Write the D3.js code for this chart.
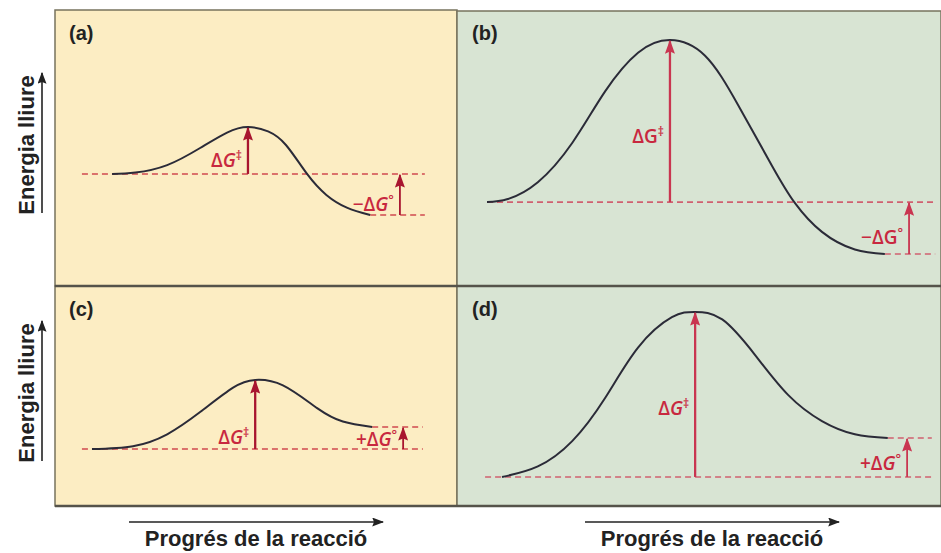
<!DOCTYPE html>
<html>
<head>
<meta charset="utf-8">
<script src="https://cdn.jsdelivr.net/npm/d3@7"></script>
<style>
  body { margin: 0; background: #fff; }
  svg { display: block; }
</style>
</head>
<body>
<script>
// Panel names and axis captions
const panelNames = ["(a)", "(b)", "(c)", "(d)"];
const yCaption = "Energia lliure";
const xCaption = "Progrés de la reacció";

// Energy profiles: [progress 0-100, free energy 0-100]
const curveA = [[14.2, 40.6], [20.0, 41.1], [27.9, 43.8], [36.1, 50.0], [42.8, 55.6], [48.0, 57.6],
  [53.0, 56.0], [57.5, 51.0], [62.7, 40.6], [67.5, 33.0], [72.6, 28.4], [78.4, 25.7]];
const curveB = [[6.2, 30.4], [10.5, 31.5], [16.7, 37.6], [23.8, 51.8], [30.6, 70.5], [37.4, 84.5], [44.0, 89.1],
  [51.2, 83.5], [58.1, 65.5], [65.1, 43.5], [69.8, 30.1], [75.4, 19.6], [82.2, 13.2], [88.4, 11.6]];
const curveC = [[9.2, 25.9], [19.4, 27.2], [27.9, 32.6], [36.1, 42.7], [44.3, 53.8], [49.8, 57.3],
  [56.7, 54.8], [65.2, 44.5], [71.6, 38.4], [78.9, 35.9]];
const curveD = [[9.3, 13.2], [16.7, 18.0], [23.8, 29.5], [30.6, 49.1], [37.4, 72.0], [44.4, 85.8], [49.2, 88.2],
  [54.8, 84.8], [61.6, 68.6], [68.4, 50.5], [75.4, 38.6], [82.2, 32.6], [89.0, 30.9]];
const curves = [curveA, curveB, curveC, curveD];

// Levels per panel
const reactantG = [40.6, 30.4, 25.9, 13.2];
const transitionG = [57.6, 89.1, 57.3, 88.2];
const productG = [25.7, 11.6, 35.9, 30.9];
const peakAt = [48.0, 44.0, 49.8, 49.2];
const levelFrom = [6.7, 6.2, 6.7, 5.8];
const levelTo = [92.0, 98.8, 91.5, 98.1];
const productFrom = [78.4, 88.4, 78.9, 89.0];
const deltaAt = [85.8, 93.4, 86.6, 93.0];
const deltaSign = ["\u2212", "\u2212", "+", "+"];

// Layout
const W = 941, H = 553;
const cols = [[55, 457], [457, 941]];
const rows = [[10, 286], [286, 506]];
const fills = ["#fcedc3", "#d8e4d3"];
const arrowColors = ["#a8152f", "#c93550", "#a8152f", "#c93550"];
const barrierLabelPos = [0.70, 0.59, 0.83, 0.58];
const deltaLabelPos = [0.73, 0.67, 0.55, 0.64];
const captionX = [256, 712];

const svg = d3.select("body").append("svg")
  .attr("width", W)
  .attr("height", H)
  .style("font-family", "'Liberation Sans', Arial, sans-serif");

const defs = svg.append("defs");
arrowColors.concat(["#222"]).forEach((c, i) => {
  defs.append("marker")
    .attr("id", "head" + i)
    .attr("viewBox", "0 0 10 10")
    .attr("refX", 9).attr("refY", 5)
    .attr("markerWidth", i === 4 ? 12 : 14)
    .attr("markerHeight", i === 4 ? 9 : 10)
    .attr("markerUnits", "userSpaceOnUse")
    .attr("orient", "auto")
    .attr("preserveAspectRatio", "none")
    .append("path")
    .attr("d", "M0,0 L10,5 L0,10 L1.5,5 Z")
    .attr("fill", c);
});

panelNames.forEach((name, i) => {
  const col = i % 2, row = Math.floor(i / 2);
  const x = d3.scaleLinear().domain([0, 100]).range(cols[col]);
  const y = d3.scaleLinear().domain([0, 100]).range([rows[row][1], rows[row][0]]);
  const g = svg.append("g");

  g.append("rect")
    .attr("x", cols[col][0]).attr("y", rows[row][0] + (col === 1 && row === 0 ? 1 : 0))
    .attr("width", cols[col][1] - cols[col][0])
    .attr("height", rows[row][1] - rows[row][0])
    .attr("fill", fills[col])
    .attr("stroke", "#77735e")
    .attr("stroke-width", 1.5);

  g.append("text")
    .attr("x", cols[col][0] + (col === 0 ? 14 : 15))
    .attr("y", rows[row][0] + 30)
    .attr("font-size", 20)
    .attr("font-weight", "bold")
    .attr("fill", "#222")
    .text(name);

  // dashed energy levels
  const dash = [
    [levelFrom[i], levelTo[i], reactantG[i]],
    [productFrom[i], levelTo[i], productG[i]]
  ];
  g.selectAll(".level")
    .data(dash)
    .join("line")
    .attr("x1", d => x(d[0])).attr("x2", d => x(d[1]))
    .attr("y1", d => y(d[2])).attr("y2", d => y(d[2]))
    .attr("stroke", col === 0 ? "#cf4a50" : "#d06070")
    .attr("stroke-width", 1.6)
    .attr("stroke-dasharray", "6,4");

  // energy profile
  g.append("path")
    .datum(curves[i])
    .attr("fill", "none")
    .attr("stroke", "#2b2b38")
    .attr("stroke-width", 2)
    .attr("d", d3.line().x(d => x(d[0])).y(d => y(d[1])).curve(d3.curveNatural));

  // activation barrier arrow
  g.append("line")
    .attr("x1", x(peakAt[i])).attr("x2", x(peakAt[i]))
    .attr("y1", y(reactantG[i])).attr("y2", y(transitionG[i]) + 1)
    .attr("stroke", arrowColors[i])
    .attr("stroke-width", 2.3)
    .attr("marker-end", `url(#head${i})`);

  const by = y(transitionG[i]) + barrierLabelPos[i] * (y(reactantG[i]) - y(transitionG[i]));
  const bt = g.append("text")
    .attr("x", x(peakAt[i]) - 6)
    .attr("y", by + 7)
    .attr("text-anchor", "end")
    .attr("font-family", "'Open Sans', sans-serif")
    .attr("font-weight", 600)
    .attr("font-size", 19)
    .attr("fill", "#c8283f");
  bt.append("tspan").text("\u0394");
  bt.append("tspan").attr("font-style", i === 1 ? "normal" : "italic").text("G");
  bt.append("tspan").attr("font-size", 12).attr("dy", -7).text("\u2021");

  // standard free-energy change arrow
  const lo = Math.min(reactantG[i], productG[i]);
  const hi = Math.max(reactantG[i], productG[i]);
  g.append("line")
    .attr("x1", x(deltaAt[i])).attr("x2", x(deltaAt[i]))
    .attr("y1", y(lo)).attr("y2", y(hi) + 1)
    .attr("stroke", arrowColors[i])
    .attr("stroke-width", 1.8)
    .attr("marker-end", `url(#head${i})`);

  const dy = y(hi) + deltaLabelPos[i] * (y(lo) - y(hi));
  const dt = g.append("text")
    .attr("x", x(deltaAt[i]) - 6)
    .attr("y", dy + 7)
    .attr("text-anchor", "end")
    .attr("font-family", "'Open Sans', sans-serif")
    .attr("font-weight", 600)
    .attr("font-size", 19)
    .attr("fill", "#c8283f");
  dt.append("tspan").text(deltaSign[i] + "\u0394");
  dt.append("tspan").attr("font-style", i === 1 ? "normal" : "italic").text("G");
  dt.append("tspan").attr("font-size", 13).attr("dy", -7).text("\u00b0");
});

// heavier row separators
[rows[0][1], rows[1][1]].forEach(v => {
  svg.append("line")
    .attr("x1", cols[0][0]).attr("x2", W)
    .attr("y1", v).attr("y2", v)
    .attr("stroke", "#55534a")
    .attr("stroke-width", 2.4);
});

// y axis captions with arrows
rows.forEach(r => {
  const mid = (r[0] + r[1]) / 2 - 3;
  svg.append("line")
    .attr("x1", 42).attr("x2", 42)
    .attr("y1", mid + 68).attr("y2", mid - 72)
    .attr("stroke", "#222").attr("stroke-width", 1.6)
    .attr("marker-end", "url(#head4)");
  svg.append("text")
    .attr("transform", `translate(34,${mid}) rotate(-90)`)
    .attr("text-anchor", "middle")
    .attr("font-size", 22)
    .attr("font-weight", "bold")
    .attr("fill", "#222")
    .text(yCaption);
});

// x axis captions with arrows
captionX.forEach(cx => {
  svg.append("line")
    .attr("x1", cx - 127).attr("x2", cx + 127)
    .attr("y1", 522).attr("y2", 522)
    .attr("stroke", "#222").attr("stroke-width", 1.6)
    .attr("marker-end", "url(#head4)");
  svg.append("text")
    .attr("x", cx).attr("y", 546)
    .attr("text-anchor", "middle")
    .attr("font-size", 22)
    .attr("font-weight", "bold")
    .attr("fill", "#222")
    .text(xCaption);
});
</script>
</body>
</html>
